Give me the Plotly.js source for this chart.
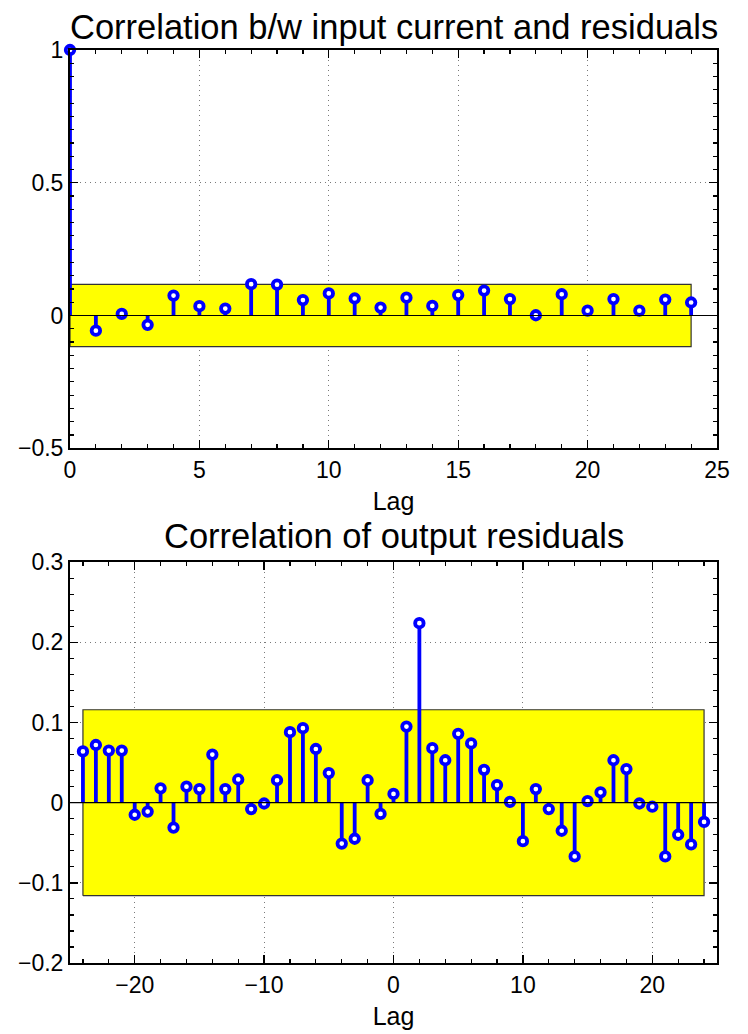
<!DOCTYPE html>
<html>
<head>
<meta charset="utf-8">
<script src="https://cdn.plot.ly/plotly-3.0.1.min.js"></script>
<style>html,body{margin:0;padding:0;background:#fff;}#chart{width:748px;height:1034px;}</style>
</head>
<body>
<div id="chart"></div>
<script>
// ---- Data ----
const lagsTop = [0,1,2,3,4,5,6,7,8,9,10,11,12,13,14,15,16,17,18,19,20,21,22,23,24];
const corrTop = [1.0,-0.057,0.006,-0.035,0.075,0.035,0.026,0.118,0.116,0.058,0.083,0.064,0.030,
                 0.067,0.036,0.077,0.094,0.062,0.001,0.080,0.018,0.062,0.018,0.060,0.049];
const confTop = [0.117];

const lagsBot = [-24,-23,-22,-21,-20,-19,-18,-17,-16,-15,-14,-13,-12,-11,-10,-9,-8,-7,-6,-5,-4,-3,-2,-1,
                 0,1,2,3,4,5,6,7,8,9,10,11,12,13,14,15,16,17,18,19,20,21,22,23,24];
const corrBot = [0.064,0.072,0.065,0.065,-0.015,-0.011,0.018,-0.031,0.020,0.017,0.060,0.017,0.029,-0.008,-0.001,0.028,
                 0.088,0.093,0.067,0.037,-0.051,-0.045,0.028,-0.014,
                 0.011,0.095,0.224,0.068,0.053,0.086,0.074,0.041,0.022,0.001,-0.048,0.017,-0.008,-0.035,-0.067,
                 0.002,0.013,0.053,0.042,-0.001,-0.005,-0.067,-0.040,-0.052,-0.024];
const confBot = [0.116];

const titleTop = "Correlation b/w input current and residuals";
const titleBot = "Correlation of output residuals";
const xLabel = "Lag";

// ---- Helpers ----
const BLUE = '#0000ff';
const FONT = 'Liberation Sans, Arial, Helvetica, sans-serif';

function stemTraces(lags, vals, conf, xa, ya) {
  const sx = [], sy = [];
  lags.forEach((k, i) => { sx.push(k, k, null); sy.push(0, vals[i], null); });
  const lo = Math.min(...lags), hi = Math.max(...lags), c = conf[0];
  return [
    { type: 'scatter', mode: 'lines', xaxis: xa, yaxis: ya,
      x: [lo, hi, hi, lo, lo], y: [-c, -c, c, c, -c],
      fill: 'toself', fillcolor: '#ffff00', line: { color: '#333', width: 1.2 },
      hoverinfo: 'skip', showlegend: false },
    { type: 'scatter', mode: 'lines', xaxis: xa, yaxis: ya,
      x: sx, y: sy, line: { color: BLUE, width: 3.8 }, showlegend: false, hoverinfo: 'skip' },
    { type: 'scatter', mode: 'markers', xaxis: xa, yaxis: ya, cliponaxis: false,
      x: lags, y: vals, showlegend: false,
      marker: { symbol: 'circle', size: 8.5, color: '#ffffff', line: { color: BLUE, width: 3.8 } } }
  ];
}

const axisCommon = {
  showline: true, linecolor: '#000', linewidth: 2, mirror: 'ticks',
  ticks: 'inside', ticklen: 8, tickwidth: 1.4, tickcolor: '#000',
  showgrid: true, gridcolor: '#7a7a7a', griddash: '1px,4px', gridwidth: 1,
  zeroline: false, tickfont: { family: FONT, size: 23, color: '#000' }
};
const minorCommon = { ticklen: 4, tickcolor: '#000', tickwidth: 1.2, ticks: 'inside', showgrid: false };

const data = [].concat(
  stemTraces(lagsTop, corrTop, confTop, 'x', 'y'),
  stemTraces(lagsBot, corrBot, confBot, 'x2', 'y2')
);

const layout = {
  width: 748, height: 1034,
  margin: { l: 70, r: 31, t: 50, b: 71 },
  paper_bgcolor: '#fff', plot_bgcolor: '#fff',
  font: { family: FONT, color: '#000' },
  showlegend: false,
  xaxis: Object.assign({}, axisCommon, {
    domain: [0, 1], anchor: 'y', range: [0, 25], tickmode: 'linear', tick0: 0, dtick: 5,
    minor: Object.assign({ dtick: 1 }, minorCommon),
    title: { text: xLabel, font: { family: FONT, size: 25 }, standoff: 11 }
  }),
  yaxis: Object.assign({}, axisCommon, {
    domain: [0.5638, 1], anchor: 'x', range: [-0.5, 1], tickmode: 'linear', tick0: -0.5, dtick: 0.5,
    minor: Object.assign({ dtick: 0.05 }, minorCommon)
  }),
  xaxis2: Object.assign({}, axisCommon, {
    domain: [0, 1], anchor: 'y2', range: [-25, 25], tickmode: 'linear', tick0: -20, dtick: 10,
    minor: Object.assign({ dtick: 2 }, minorCommon),
    title: { text: xLabel, font: { family: FONT, size: 25 }, standoff: 11 }
  }),
  yaxis2: Object.assign({}, axisCommon, {
    domain: [0, 0.4389], anchor: 'x2', range: [-0.2, 0.3], tickmode: 'linear', tick0: -0.2, dtick: 0.1,
    minor: Object.assign({ dtick: 0.02 }, minorCommon)
  }),
  shapes: [
    { type: 'line', xref: 'x domain', yref: 'y', x0: 0, x1: 1, y0: 0, y1: 0, layer: 'above',
      line: { color: '#000', width: 1.2 } },
    { type: 'line', xref: 'x2 domain', yref: 'y2', x0: 0, x1: 1, y0: 0, y1: 0, layer: 'above',
      line: { color: '#000', width: 1.2 } }
  ],
  annotations: [
    { text: titleTop, xref: 'paper', yref: 'paper', x: 0.5, y: 1, xanchor: 'center', yanchor: 'bottom',
      yshift: 2, showarrow: false, font: { family: FONT, size: 34.5, color: '#000' } },
    { text: titleBot, xref: 'paper', yref: 'paper', x: 0.5, y: 0.4389, xanchor: 'center', yanchor: 'bottom',
      yshift: 5, showarrow: false, font: { family: FONT, size: 34.5, color: '#000' } }
  ]
};

Plotly.newPlot('chart', data, layout, { displayModeBar: false, staticPlot: true });
</script>
</body>
</html>
